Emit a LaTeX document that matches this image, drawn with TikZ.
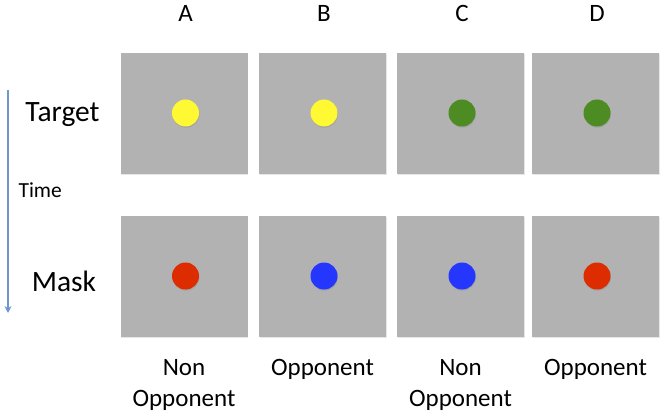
\documentclass[tikz,border=0pt]{standalone}
\usepackage{fontspec}
\setmainfont{Carlito}
\usetikzlibrary{arrows.meta,positioning,shadows}
\definecolor{panel}{HTML}{B2B2B2}
\definecolor{dotyellow}{HTML}{FFF933}
\definecolor{dotgreen}{HTML}{4D8C22}
\definecolor{dotred}{HTML}{DD2C00}
\definecolor{dotblue}{HTML}{2536FF}
\definecolor{timeline}{HTML}{7096CE}
\tikzset{
  panelbox/.style={fill=panel,inner sep=0pt,minimum width=127pt,minimum height=121pt,
    drop shadow={shadow xshift=.6pt,shadow yshift=-.8pt,opacity=.2}},
  stim/.style={circle,inner sep=0pt,minimum size=27pt,
    drop shadow={shadow xshift=.5pt,shadow yshift=-1.2pt,opacity=.3}},
  colhead/.style={anchor=base,font=\fontsize{25}{30}\selectfont},
  rowlabel/.style={anchor=base,font=\fontsize{29.5}{35}\selectfont},
  caption/.style={anchor=base,align=center,font=\fontsize{25}{31}\selectfont}
}
\begin{document}
\begin{tikzpicture}[x=1pt,y=-1pt,>=Latex]
\useasboundingbox (0,0) rectangle (664,414);
% stimulus columns (caption y = baseline of last line)
\foreach \c/\cx/\up/\down/\capy/\lab in {A/184/dotyellow/dotred/406/{Non\\Opponent},B/322.5/dotyellow/dotblue/375/Opponent,C/460.5/dotgreen/dotblue/406/{Non\\Opponent},D/595.5/dotgreen/dotred/375/Opponent}{
  \node[colhead] (head\c) at (\cx+1.5,22) {\c};
  \node[panelbox] (target\c) at (\cx,114) {};
  \node[panelbox] (mask\c) at (\cx,276.5) {};
  \node[stim,fill=\up] (dotT\c) at (\cx+1.5,113) {};
  \node[stim,fill=\down] (dotM\c) at (\cx+1.5,276) {};
  \node[caption] (cap\c) at (\cx,\capy) {\lab};
}
% row labels and time axis
\node[rowlabel] (target) at (62.5,122) {Target};
\node[rowlabel] (mask) at (64,291) {Mask};
\node[anchor=base west,font=\fontsize{21.5}{26}\selectfont] (time) at (15,198) {Time};
\coordinate (tstart) at (8,90);
\coordinate (tend) at (8,313);
\draw[timeline,line width=1.3pt,-{Stealth[length=7pt,width=7pt]}] (tstart) -- (tend);
\end{tikzpicture}
\end{document}
